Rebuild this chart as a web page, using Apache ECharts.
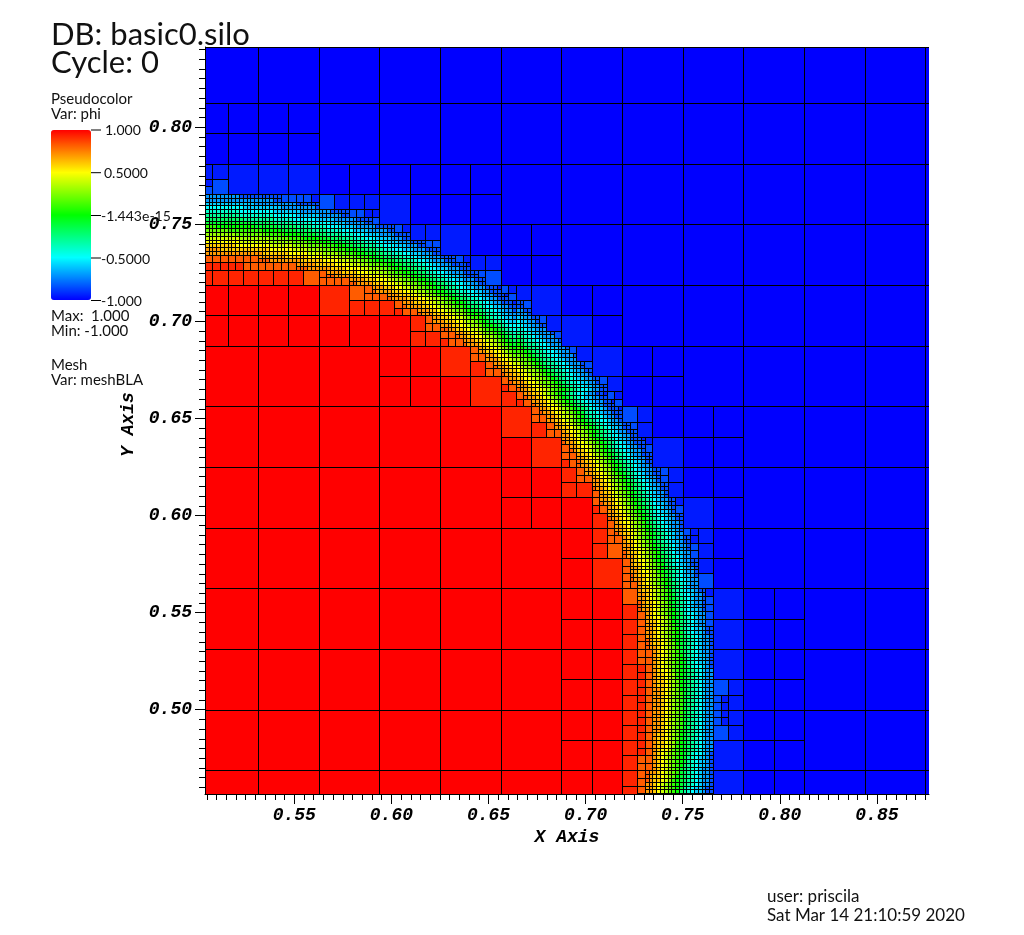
<!DOCTYPE html>
<html><head><meta charset="utf-8">
<style>html,body{margin:0;padding:0;background:#fff}#c{width:1024px;height:935px}</style>
<script src="https://cdn.jsdelivr.net/npm/echarts@6/dist/echarts.min.js"></script>
</head><body><div id="c"></div>
<script>
// phi level per letter
const phiLetters = "ABCDEFGHIJKLMNOPQRSTU";
const phiValues = [1,0.93,0.82,0.7,0.6,0.5,0.4,0.3,0.2,0.1,0,-0.1,-0.2,-0.3,-0.4,-0.5,-0.6,-0.7,-0.85,-0.95,-1];
// mesh, one quadrant fold about (0.5,0.5); "." = block is split into 4 children
const meshOrigin = 0.5;
const level0Size = 1/32;
const level0Start = [0,1,2,3,4,5,6,7];
const level0Cells = ["AAAAAA....UUU","AAAAA....UUU","AAAA...UUUU","AA....UUUU","A....UUUU","...UUUUU",".UUUUUU","UUUUUU"];
const level1Start = [12,12,12,12,12,12,10,10,10,10,10,11,12,13];
const level1Cells = ["AA....UU","AA...TUU","AA...TUU","AA...TUU","AB...U","A....U","AAA...TU","AA....UU","AB...TUU","B....UUU","....UU","..TUU","TU","U"];
const level2Start = [28,28,28,28,28,28,28,28,28,28,26,26,26,26,24,24,24,24,22,22,20,21,22,23];
const level2Cells = ["B......T","B.....ST","B.....","B.....","B.....","B.....","B.....","C.....",".....S",".....T","BC.....T","B......T","B.....","......","BB.....T","B......T","......","......","B......T","......ST","B.......","......T","....","..T"];
const level3Start = [58,58,58,58,58,58,58,58,58,58,58,58,58,58,58,58,56,56,56,56,56,56,54,54,54,54,52,52,52,52,50,50,48,48,48,48,46,46,44,44,42,42,42,43,44,45,46,47];
const level3Cells = ["BC........ST","BC........ST","BC........","BC........","BC........","BC........","CC........","CC........","C.........","C.........","C.........","C........S","C........S",".........S",".........S",".........T","CC........","C.........","C.........","C.........",".........S",".........S","CC.........T","C.........ST","C.........","..........","BC.........S","C..........T","C.........","..........","CC.........S","C..........S","BC..........","CC..........","C..........S","...........T","CC..........","C..........S","CC..........","C...........","BC...........S","C...........ST","............","..........S","........","......S","....","..S"];
const level4Start = [120,120,120,120,120,120,120,120,120,120,120,120,120,120,120,120,118,118,118,118,118,118,118,118,118,118,116,116,116,116,116,116,116,116,114,114,114,114,114,114,112,112,112,112,112,112,110,110,110,110,108,108,108,108,106,106,106,106,104,104,104,104,102,102,100,100,100,100,98,98,96,96,96,96,94,94,92,92,90,90,88,88,86,86,84,85,86,87,88,89,90,91,92,93,94,95];
const level4Cells = [
"DDEFGHIJLMNOPQRR","DDEFGHIJLMNOPQRR","DDEFGHIJLMNOPQRR","DDEFGHIJLMNOPQRR","DDEFGHIJLMNOPQRR","DDEFGHIKLMNOPQRR","DEEFGHIKLMNOPQRR","DEEFGHIKLMNOPQRR",
"DEEFGHJKLMNOPQRR","DEEFGHJKLMNOPQRR","DEFFGIJKLMNOPQRR","DEFGHIJKLMOPPQRS","DEFGHIJKLNOPQQRS","DEFGHIJKLNOPQQRS","DEFGHIJKMNOPQQRS","DEFGHIJLMNOPQRRS",
"CDDEFGHIJLMNOPQRRS","CDEEFGHIKLMNOPQRRS","CDEEFGHJKLMNOPQRRS","DDEFGHIJKLMNOPQRRS","DDEFGHIJKLNOPQQRSS","DDEFGHIJKMNOPQQRSS",
"DDEFGHIJLMNOPQRR","DEEFGHIKLMNOPQRR","DEFFGHJKLMNOPQRR","DEFGHIJKLMOPPQRR",
"CDDEFGHIJKMNOPQQRS","CDEEFGHIJLMNOPQRRS","CDEEFGHIKLMNOPQRRS","DDEFGHIJKLMNOPQRRS","DDEFGHIJKLNOPPQRRS","DEEFGHIJKMNOPQQRSS",
"DEEFGHIKLMNOPQRR","DEFGHIJKLMNOPQRR",
"CDDEFGHIJKLNOPPQRR","CDEEFGHIJLMNOPQQRS","DDEFFGHJKLMNOPQRRS","DDEFGHIJKLMNOPQRRS","DEEFGHIJKMNOPQQRSS","DEFFGHJKLMNOPQRRSS",
"CDDEFGHIJKLMNOPQRR","CDEEFGHIJKMNOPQQRR","DDEFFGHJKLMNOPQRRS","DDEFGHIJKLMNOPQRRS","DEEFGHIJLMNOPQQRSS","DEFGHIJKLMNOPQRRSS",
"CDEEFGHIJKLMNOPQRR","DDEFFGHIKLMNOPQQRS","DDEFGHIJKLMNOPQRRS","DEFFGHIJLMNOPQQRRS",
"CDDEFGHIJKLMNOPQQRSS","DDEEFGHIJKLNOPPQRRSS","DDEFGHIJKLMNOPQQRS","DEEFGHIJKLMNOPQRRS",
"CDDEFGHIJKLMNOPQQRSS","DDEEFGHIJKLMNOPQRRSS","DDEFGHIJKLMNOPQQRS","DEEFGHIJKLMNOPQRRS",
"CDDEFGHIJKLMNOPQQRSS","DDEEFGHIJKLMNOPQRRSS","DDEFGHIJKLMNOPQQRS","DEFFGHIJKMNOPPQRRS",
"DDEEFGHIJKLMNOPQRRSS","DDEFGHHJKLMNOPQQRRSS",
"CDDEEFGHIJKLMNOPQRRS","CDEEFGHIJKLMNOPQQRSS","DDEFFGHIJLMNOPPQRRSS","DEEFGHIJKLMNOPQRRSSS",
"CDEEFGHIJKLMNOPQQRRS","DDEFFGHIJKMNOPPQRRSS",
"CDDEFFGHIJKLMNOPQRRSSS","DDEEFGHIJKLMNOPQQRSSST","DDEFGHHJKLMNOPPQRRSS","DEFFGHIJKLMNOPQRRSSS",
"DDEEFGHIJKLMNOPQQRSS","DEEFGHIJKLMNOPQQRRSS",
"DDEEFGHIJKLMNOPPQRRS","DDEFGGHIJKMNOOPQRRSS",
"CDDEFFGHIJKLNOOPQRRSSS","DDEFFGHIJKLMNOPQQRSSST",
"CDDEFFGHIJKLMNOPQQRSSS","DDEEFGHIJKLMNOPQQRRSST",
"CDDEEFGHIJKLMNOPQQRRSS","DDEEFGHIJKLMNOPPQRRSST",
"CDDEEFFGHIJJKLMNOPPQRRSS","DDEFFGHIIJKLMNOOPQQRRSS","EFFGHIIJKLMNOOPQQRRS","FGHHIJKLMNOOPQQRRSS",
"HHIJKLMNNOPQQRRS","IJKLMNNOPQQRRSS","KLMNNOPPQRRS","MNNOPPQRRRS","NOPPQRRR","PPQRRRS","QQRR","RRS"];
// domain of level-0 cells in view
const level0Columns = [0,1,2,3,4,5,6,7,8,9,10,11,12];
const level0Rows = [-2,-1,0,1,2,3,4,5,6,7,8,9,10];
// axes
const xRange = [0.50402,0.87683];
const yRange = [0.45659,0.84135];
const xMajor = [0.55,0.60,0.65,0.70,0.75,0.80,0.85];
const yMajor = [0.50,0.55,0.60,0.65,0.70,0.75,0.80];
const xMinor = [0.505,0.51,0.515,0.52,0.525,0.53,0.535,0.54,0.545,0.555,0.56,0.565,0.57,0.575,0.58,0.585,0.59,0.595,0.605,0.61,0.615,0.62,0.625,0.63,0.635,0.64,0.645,0.655,0.66,0.665,0.67,0.675,0.68,0.685,0.69,0.695,0.705,0.71,0.715,0.72,0.725,0.73,0.735,0.74,0.745,0.755,0.76,0.765,0.77,0.775,0.78,0.785,0.79,0.795,0.805,0.81,0.815,0.82,0.825,0.83,0.835,0.84,0.845,0.855,0.86,0.865,0.87,0.875];
const yMinor = [0.46,0.465,0.47,0.475,0.48,0.485,0.49,0.495,0.505,0.51,0.515,0.52,0.525,0.53,0.535,0.54,0.545,0.555,0.56,0.565,0.57,0.575,0.58,0.585,0.59,0.595,0.605,0.61,0.615,0.62,0.625,0.63,0.635,0.64,0.645,0.655,0.66,0.665,0.67,0.675,0.68,0.685,0.69,0.695,0.705,0.71,0.715,0.72,0.725,0.73,0.735,0.74,0.745,0.755,0.76,0.765,0.77,0.775,0.78,0.785,0.79,0.795,0.805,0.81,0.815,0.82,0.825,0.83,0.835,0.84];

const levelStart = [level0Start,level1Start,level2Start,level3Start,level4Start];
const levelCells = [level0Cells,level1Cells,level2Cells,level3Cells,level4Cells];
function codeAt(level,i,j){
  const a = i>=0 ? i : -i-1, b = j>=0 ? j : -j-1;
  const m = Math.max(a,b), t = Math.min(a,b);
  const row = levelCells[level][t];
  if(row===undefined) return 'U';
  const c = row[m-levelStart[level][t]];
  return c===undefined ? 'U' : c;
}
const cells = [];
function visit(level,i,j,size){
  const code = codeAt(level,i,j);
  if(code==='.'){
    for(const di of [0,1]) for(const dj of [0,1]) visit(level+1,2*i+di,2*j+dj,size/2);
  } else {
    cells.push([meshOrigin+i*size, meshOrigin+j*size, size, phiValues[phiLetters.indexOf(code)]]);
  }
}
level0Columns.forEach(i=>level0Rows.forEach(j=>visit(0,i,j,level0Size)));

// each cell is a pixel-aligned fill inset by one pixel, so the black plot background shows as the mesh lines
function renderCell(params,api){
  const x0=api.value(0), y0=api.value(1), s=api.value(2);
  const p0=api.coord([x0,y0]), p1=api.coord([x0+s,y0+s]);
  const cs=params.coordSys;
  const r=echarts.graphic.clipRectByRect({x:p0[0],y:p1[1],width:p1[0]-p0[0],height:p0[1]-p1[1]},{x:cs.x,y:cs.y,width:cs.width,height:cs.height});
  if(!r) return null;
  const l=Math.round(r.x), rr=Math.round(r.x+r.width), t=Math.round(r.y), b=Math.round(r.y+r.height);
  return {type:'rect',shape:{x:l+1,y:t+1,width:rr-l-1,height:b-t-1},style:{fill:api.visual('color')}};
}
const tickFont = {fontFamily:'Liberation Mono',fontWeight:'bold',fontStyle:'italic',fontSize:18,color:'#000'};
const nameFont = {fontFamily:'Liberation Mono',fontWeight:'bold',fontStyle:'italic',fontSize:18,color:'#000'};
const lineBlack = {color:'#000',width:1};
const fmt = v=>Number(v).toFixed(2);
function axisPair(kind,range,major,minor,name,nameGap){
  const base={type:'value',min:range[0],max:range[1],position:kind==='x'?'bottom':'left',splitLine:{show:false},minorTick:{show:false},scale:true};
  return [
    Object.assign({},base,{axisLine:{show:true,onZero:false,lineStyle:lineBlack},axisLabel:{show:false},
      axisTick:{show:true,length:6,lineStyle:lineBlack,customValues:minor}}),
    Object.assign({},base,{axisLine:{show:false,onZero:false},
      axisTick:{show:true,length:10,lineStyle:lineBlack,customValues:major},
      axisLabel:Object.assign({show:true,formatter:fmt,customValues:major,margin:kind==='x'?12:13},tickFont),
      name:name,nameLocation:'middle',nameGap:nameGap,nameRotate:kind==='x'?0:90,
      nameTextStyle:Object.assign({padding:kind==='x'?0:[0,8,0,0]},nameFont)})
  ];
}
const uiFont='Lato';
function label(text,x,y,size){
  return {type:'text',x:x,y:y,z:100,style:{text:text,fill:'#111',font:size+'px '+uiFont,textVerticalAlign:'bottom',textAlign:'left'}};
}
const overlayTexts=[
  label('DB: basic0.silo',51,50,31),
  label('Cycle: 0',51,78,31),
  label('Pseudocolor',51,107,15),
  label('Var: phi',51,122,15),
  label('1.000',105,137,14),
  label('0.5000',104,180,14),
  label('-1.443e-15',101,223,14),
  label('-0.5000',101,266,14),
  label('-1.000',101,308,14),
  label('Max:  1.000',51,324,15),
  label('Min: -1.000',51,339,15),
  label('Mesh',51,373,15),
  label('Var: meshBLA',51,388,15),
  label('user: priscila',767,905,17),
  label('Sat Mar 14 21:10:59 2020',767,924,17)
];
const legendTicks=[130,172.7,215.5,258,300.5].map(y=>({type:'line',z:100,shape:{x1:91,y1:y,x2:101,y2:y},style:{stroke:'#000',lineWidth:1}}));

const chart=echarts.init(document.getElementById('c'),null,{renderer:'canvas'});
chart.setOption({
  animation:false,backgroundColor:'#fff',
  grid:{show:true,backgroundColor:'#000',borderWidth:0,left:205,right:95,top:47,bottom:141,containLabel:false},
  xAxis:axisPair('x',xRange,xMajor,xMinor,'X Axis',31),
  yAxis:axisPair('y',yRange,yMajor,yMinor,'Y Axis',68),
  visualMap:{type:'continuous',seriesIndex:0,dimension:3,min:-1,max:1,left:51,top:130,itemWidth:40,itemHeight:170,padding:0,
    calculable:false,showLabel:false,hoverLink:false,text:null,inRange:{color:['#0000ff','#00ffff','#00ff00','#ffff00','#ff0000']}},
  series:[{type:'custom',xAxisIndex:0,yAxisIndex:0,coordinateSystem:'cartesian2d',data:cells,dimensions:['x','y','size','phi'],
    encode:{x:0,y:1},renderItem:renderCell,progressive:0,silent:true,clip:true}],
  graphic:overlayTexts.concat(legendTicks)
});
</script></body></html>
